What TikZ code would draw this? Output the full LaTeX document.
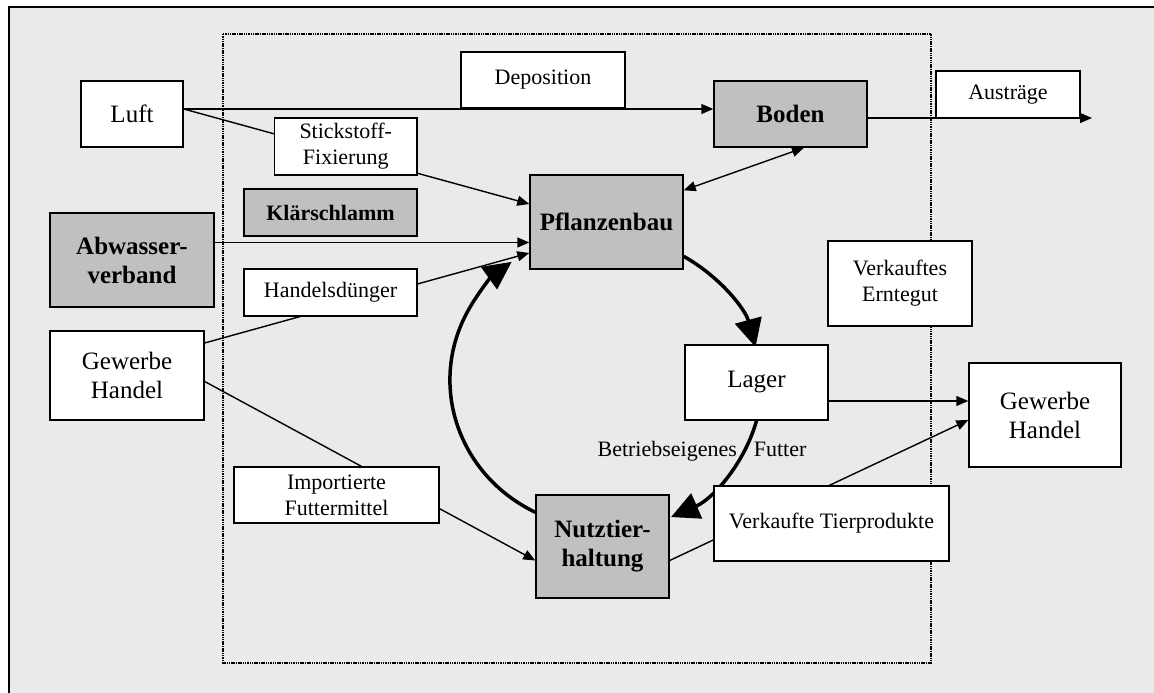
\documentclass[tikz,border=0pt]{standalone}
\usepackage{fontspec}
\setmainfont{Liberation Serif}
\usetikzlibrary{arrows.meta,calc}
\pgfdeclarelayer{bg}
\pgfdeclarelayer{lines}
\pgfsetlayers{bg,lines,main}
\definecolor{bgfill}{HTML}{EAEAEA}
\definecolor{boxgray}{HTML}{C0C0C0}
\tikzset{
  whitebox/.style={draw=black, line width=1.4pt, fill=white, inner sep=0pt, align=center, font=\fontsize{22}{26}\selectfont},
  bigwhite/.style={whitebox, font=\fontsize{25}{29}\selectfont},
  graybox/.style={whitebox, fill=boxgray, font=\fontsize{25}{29}\selectfont\bfseries},
  sz/.style 2 args={minimum width=#1pt, minimum height=#2pt},
  flowarrow/.style={line width=1.4pt, -{Triangle[length=12pt,width=10pt]}},
  dblarrow/.style={line width=1.4pt, {Triangle[length=12pt,width=10pt]}-{Triangle[length=12pt,width=10pt]}},
  cyclearrow/.style={line width=3.5pt, -{Triangle[length=28pt,width=27pt]}},
  dotframe/.style={line width=1.3pt, dash pattern=on 1.5pt off 0.8pt},
}
\begin{document}
\begin{tikzpicture}[x=1pt,y=1pt]
\useasboundingbox (0,0) rectangle (1154,693);

% nodes
\node[whitebox, sz={164}{56}] (depo) at (543,613) {Deposition};
\node[bigwhite, sz={102}{66}] (luft) at (132,579) {Luft};
\node[graybox, sz={153}{66}] (boden) at (790.5,579) {Boden};
\node[whitebox, sz={144}{47}] (austr) at (1008,598.5) {Austräge};
\node[whitebox, sz={142.5}{57}] (stick) at (345.75,546.5) {Stickstoff-\\Fixierung};
\node[graybox, font=\fontsize{22}{26}\selectfont\bfseries, sz={173}{47}] (klaer) at (330.5,480.5) {Klärschlamm};
\node[graybox, sz={153}{94}] (pfl) at (606.5,471) {Pflanzenbau};
\node[graybox, sz={164}{94}] (abw) at (132,433) {Abwasser-\\verband};
\node[whitebox, sz={173}{47}] (hdue) at (330.5,400.5) {Handelsdünger};
\node[bigwhite, sz={154}{89}] (gewl) at (127,317.5) {Gewerbe\\Handel};
\node[whitebox, sz={144}{85}] (verk) at (900,409.5) {Verkauftes\\Erntegut};
\node[bigwhite, sz={143}{75}] (lager) at (756.5,310.5) {Lager};
\node[bigwhite, sz={152}{104}] (gewr) at (1045,278) {Gewerbe\\Handel};
\node[whitebox, sz={205}{56}] (impo) at (336.5,198) {Importierte\\Futtermittel};
\node[graybox, sz={133}{103}] (nutz) at (602.5,146.5) {Nutztier-\\haltung};
\node[whitebox, sz={235}{75}] (vtp) at (831.5,169.5) {Verkaufte Tierprodukte};
\node[font=\fontsize{22}{26}\selectfont, anchor=base, inner sep=0pt] (betr) at (702,236) {Betriebseigenes\hspace{17pt}Futter};

\begin{pgfonlayer}{bg}
  \fill[bgfill] (9,0) rectangle (1154,686);
  \draw[line width=1.6pt] (9,0) -- (9,686) -- (1154,686);
  \draw[dotframe] (223,659) rectangle (931,30);
\end{pgfonlayer}

\begin{pgfonlayer}{lines}
  \coordinate (lsrc) at ($(luft.east)+(0,5)$);
  \draw[flowarrow] (lsrc) -- (lsrc -| boden.west);
  \draw[flowarrow] (lsrc) -- ($(pfl.west)+(0,18)$);
  \draw[flowarrow] ($(abw.east)+(0,17.5)$) -- ($(pfl.west)+(0,-20.5)$);
  \draw[flowarrow] ($(gewl.east)+(0,32.5)$) -- ($(pfl.west)+(0,-31)$);
  \draw[flowarrow] ($(gewl.east)+(0,-6)$) -- ($(nutz.west)+(0,-14)$);
  \draw[dblarrow] ($(pfl.north east)+(0,-16)$) -- ($(boden.south)+(13.5,0)$);
  \coordinate (outend) at (1092,575);
  \draw[flowarrow] ($(boden.east)+(0,-4)$) -- (outend);
  \draw[flowarrow] ($(lager.east)+(0,-18.5)$) -- ($(gewr.west)+(0,14)$);
  \draw[flowarrow] ($(nutz.east)+(0,-14)$) -- ($(gewr.west)+(0,-5)$);
  % cycle
  \draw[cyclearrow] (pfl.-24) arc[start angle=59.7, end angle=14.5, x radius=155, y radius=148];
  \draw[cyclearrow] (lager.south) arc[start angle=-15, end angle=-65.5, x radius=155, y radius=148];
  \draw[cyclearrow] (nutz.153) arc[start angle=-116.7, end angle=-233, x radius=155, y radius=148];
\end{pgfonlayer}
\end{tikzpicture}
\end{document}
